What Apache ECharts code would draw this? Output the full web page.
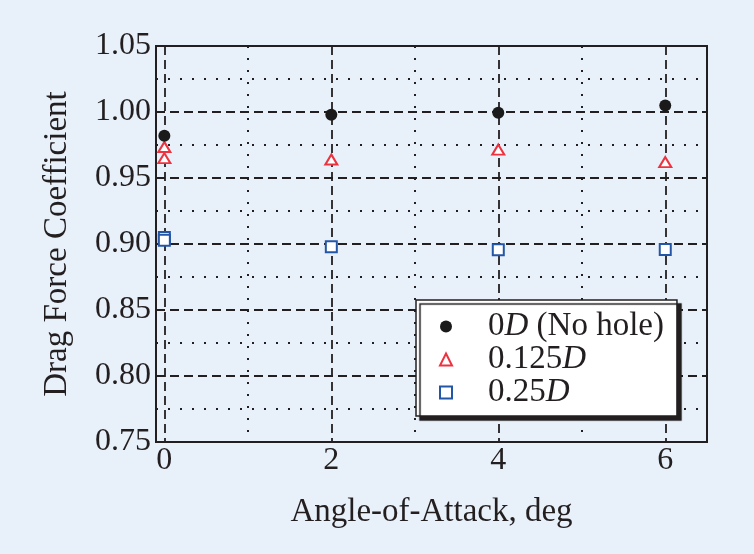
<!DOCTYPE html>
<html>
<head>
<meta charset="utf-8">
<script src="https://cdn.jsdelivr.net/npm/echarts@6/dist/echarts.min.js"></script>
<style>
  html, body { margin: 0; padding: 0; background: #e8f0f9; }
  #chart { width: 754px; height: 554px; }
</style>
</head>
<body>
<div id="chart"></div>
<script>
// --- data ---
const seriesNames = ['0D (No hole)', '0.125D', '0.25D'];
const noHole = [[0, 0.982], [2, 0.998], [4, 0.9995], [6, 1.005]];
const hole125 = [[0, 0.9735], [0, 0.965], [2, 0.964], [4, 0.9715], [6, 0.962]];
const hole25 = [[0, 0.905], [0, 0.9028], [2, 0.898], [4, 0.8956], [6, 0.8958]];
const xRange = [-0.1, 6.5];
const yRange = [0.75, 1.05];

const FONT = '"Liberation Serif", "Times New Roman", serif';
const INK = '#231f20';

const chart = echarts.init(document.getElementById('chart'));

const dashed = { color: INK, width: 1.8, type: [9, 5] };
const dotted = { color: INK, width: 2, type: [2, 10] };

const option = {
    backgroundColor: '#e8f0f9',
    grid: {
        left: 156, right: 47, top: 46, bottom: 112,
        show: true, borderColor: INK, borderWidth: 2, backgroundColor: 'transparent'
    },
    xAxis: [
        {
            type: 'value',
            min: xRange[0], max: xRange[1],
            splitNumber: 3, minInterval: 2, maxInterval: 2,
            axisLine: { show: true, onZero: false, lineStyle: { color: INK, width: 2 } },
            axisTick: { show: false },
            axisLabel: {
                showMinLabel: false, showMaxLabel: false, margin: 3,
                fontFamily: FONT, fontSize: 32, color: INK
            },
            splitLine: { show: true, lineStyle: dashed },
            name: 'Angle-of-Attack, deg',
            nameLocation: 'middle',
            nameGap: 54,
            nameTextStyle: { fontFamily: FONT, fontSize: 33, color: INK }
        },
        {
            // helper axis: dotted lines at odd angles only
            type: 'value',
            position: 'bottom',
            min: xRange[0], max: xRange[1],
            splitNumber: 7, minInterval: 1, maxInterval: 1,
            axisLine: { show: false },
            axisTick: { show: false },
            axisLabel: { show: false },
            splitLine: { show: true, lineStyle: { ...dotted, color: [INK, 'rgba(0,0,0,0)'] } }
        }
    ],
    yAxis: {
        type: 'value',
        min: yRange[0], max: yRange[1], interval: 0.05,
        axisLine: { show: true, onZero: false, lineStyle: { color: INK, width: 2 } },
        axisTick: { show: false },
        axisLabel: {
            margin: 5, fontFamily: FONT, fontSize: 32, color: INK,
            formatter: v => v.toFixed(2)
        },
        splitLine: { show: true, lineStyle: dashed },
        minorTick: { show: false, splitNumber: 2 },
        minorSplitLine: { show: true, lineStyle: dotted },
        name: 'Drag Force Coefficient',
        nameLocation: 'middle',
        nameGap: 82,
        nameTextStyle: { fontFamily: FONT, fontSize: 33, color: INK }
    },
    legend: {
        orient: 'vertical',
        left: 416, top: 300,
        itemWidth: 12, itemHeight: 12, itemGap: 0,
        padding: [10, 13, 7, 23],
        backgroundColor: '#ffffff',
        borderColor: INK, borderWidth: 1.5,
        shadowColor: INK, shadowBlur: 1, shadowOffsetX: 4, shadowOffsetY: 4,
        textStyle: {
            fontFamily: FONT, fontSize: 33, lineHeight: 33, color: INK,
            padding: [0, 0, 0, 31],
            rich: {
                i: { fontFamily: FONT, fontSize: 33, lineHeight: 33, color: INK, fontStyle: 'italic' }
            }
        },
        formatter: name => name.replace('D', '{i|D}'),
        data: seriesNames
    },
    series: [
        {
            name: seriesNames[0], type: 'scatter', xAxisIndex: 0,
            symbol: 'circle', symbolSize: 12,
            itemStyle: { color: '#1a1a1a', opacity: 1 },
            data: noHole, z: 4
        },
        {
            name: seriesNames[1], type: 'scatter', xAxisIndex: 0,
            symbol: 'triangle', symbolSize: [12, 10],
            itemStyle: { color: '#ffffff', borderColor: '#ee3340', borderWidth: 2, opacity: 1 },
            data: hole125, z: 3
        },
        {
            name: seriesNames[2], type: 'scatter', xAxisIndex: 0,
            symbol: 'rect', symbolSize: 11,
            itemStyle: { color: '#ffffff', borderColor: '#2456a8', borderWidth: 2, opacity: 1 },
            data: hole25, z: 3
        }
    ]
};

chart.setOption(option);
</script>
</body>
</html>
